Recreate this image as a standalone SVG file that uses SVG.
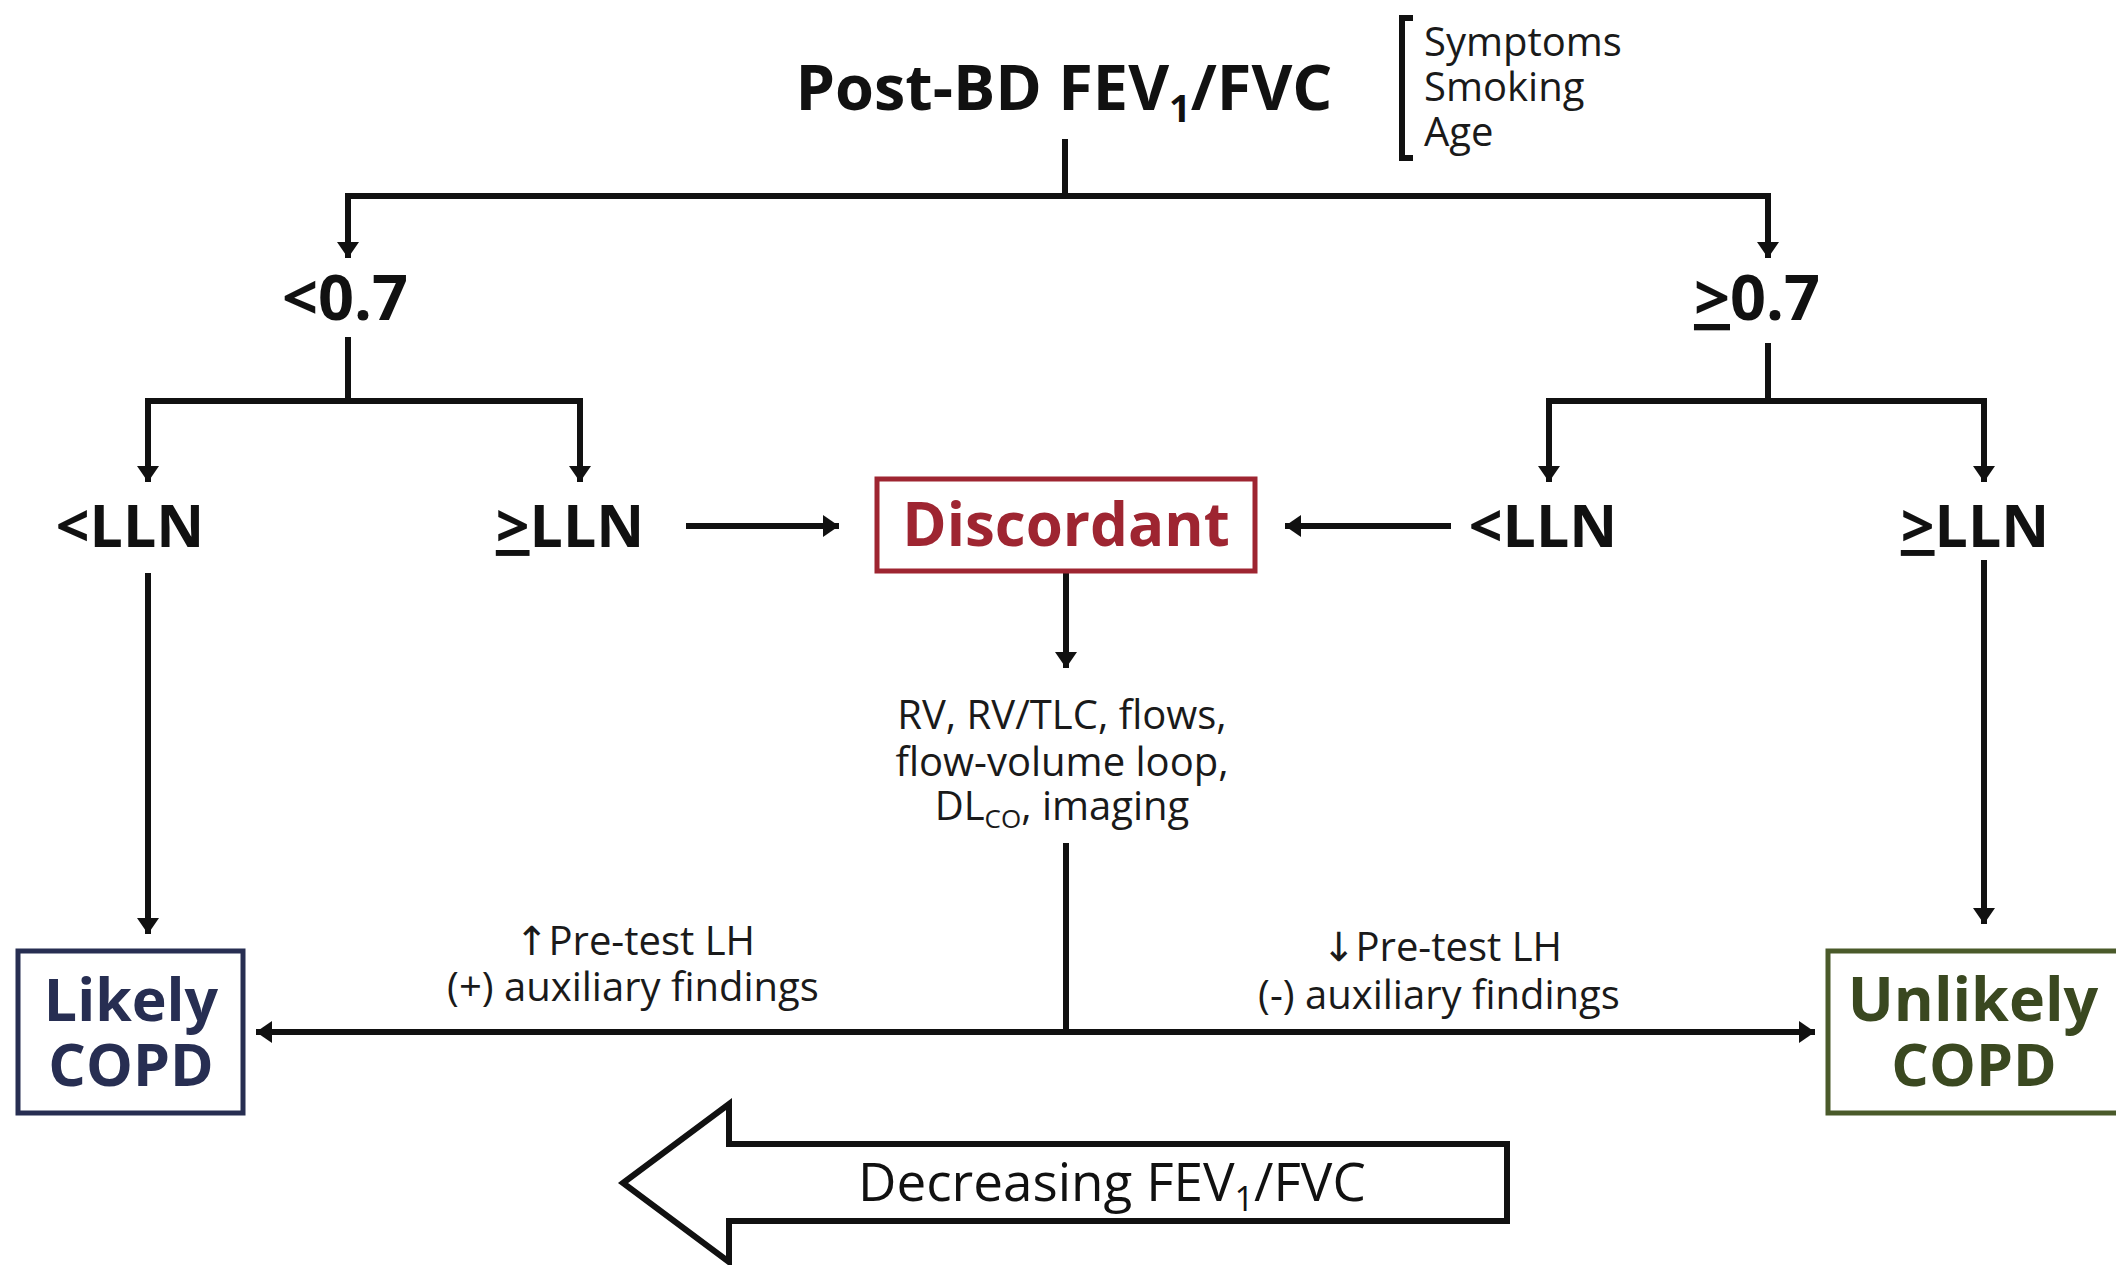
<svg xmlns="http://www.w3.org/2000/svg" width="2116" height="1265" viewBox="0 0 2116 1265">
<defs>
<marker id="ah" markerUnits="userSpaceOnUse" markerWidth="18" markerHeight="24" refX="16" refY="11" orient="auto">
<path d="M0,0 L16,11 L0,22 z" fill="#111"/>
</marker>
<style>
.t{font-family:"Open Sans","DejaVu Sans",sans-serif;fill:#111}
.b{font-weight:bold}
.big{font-size:59px}
.sm{font-size:40px;fill:#1a1a1a}
.ln{fill:none;stroke:#111;stroke-width:6}
.arr{fill:none;stroke:#111;stroke-width:6;marker-end:url(#ah)}
</style>
</defs>
<rect width="2116" height="1265" fill="#fff"/>

<g id="connectors">
<path class="ln" d="M1065,139 V196"/>
<path class="arr" d="M1065,196 H348 V258"/>
<path class="arr" d="M1065,196 H1768 V258"/>
<path class="ln" d="M348,337 V401"/>
<path class="arr" d="M348,401 H148 V482"/>
<path class="arr" d="M348,401 H580 V482"/>
<path class="ln" d="M1768,343 V401"/>
<path class="arr" d="M1768,401 H1549 V482"/>
<path class="arr" d="M1768,401 H1984 V482"/>
<path class="arr" d="M686,526 H839"/>
<path class="arr" d="M1451,526 H1285"/>
<path class="arr" d="M1066,571 V668"/>
<path class="ln" d="M1066,843 V1032"/>
<path class="arr" d="M1066,1032 H256"/>
<path class="arr" d="M1066,1032 H1815"/>
<path class="arr" d="M148,573 V934"/>
<path class="arr" d="M1984,560 V924"/>
</g>

<g id="title">
<text class="t b" x="1064" y="110" font-size="63" text-anchor="middle">Post-BD FEV<tspan font-size="38" dy="12">1</tspan><tspan dy="-12">/FVC</tspan></text>
</g>

<g id="factors">
<path class="ln" d="M1413,18 H1402 V158 H1413"/>
<text class="t sm" x="1424" y="56">Symptoms</text>
<text class="t sm" x="1424" y="101">Smoking</text>
<text class="t sm" x="1424" y="146">Age</text>
</g>

<g id="lt07"><text class="t b" font-size="63" x="345" y="320" text-anchor="middle">&lt;0.7</text></g>
<g id="ge07"><text class="t b" font-size="63" x="1757" y="320" text-anchor="middle"><tspan text-decoration="underline">&gt;</tspan>0.7</text></g>

<g id="lt-lln-left"><text class="t b big" x="130" y="547" text-anchor="middle">&lt;LLN</text></g>
<g id="ge-lln-left"><text class="t b big" x="570" y="547" text-anchor="middle"><tspan text-decoration="underline">&gt;</tspan>LLN</text></g>
<g id="lt-lln-right"><text class="t b big" x="1543" y="547" text-anchor="middle">&lt;LLN</text></g>
<g id="ge-lln-right"><text class="t b big" x="1975" y="547" text-anchor="middle"><tspan text-decoration="underline">&gt;</tspan>LLN</text></g>

<g id="discordant">
<rect x="877" y="479" width="378" height="92" fill="#fff" stroke="#9E2531" stroke-width="5"/>
<text class="t b" font-size="60" x="1066" y="546" text-anchor="middle" style="fill:#9E2531">Discordant</text>
</g>

<g id="tests">
<text class="t sm" x="1062" y="729" text-anchor="middle">RV, RV/TLC, flows,</text>
<text class="t sm" x="1062" y="776" text-anchor="middle">flow-volume loop,</text>
<text class="t sm" x="1062" y="820" text-anchor="middle">DL<tspan font-size="26" dy="8">CO</tspan><tspan dy="-8">, imaging</tspan></text>
</g>

<g id="likely">
<rect x="18" y="951" width="225" height="162" fill="#fff" stroke="#272E52" stroke-width="5"/>
<text class="t b big" x="131" y="1021" text-anchor="middle" style="fill:#272E52">Likely</text>
<text class="t b big" x="131" y="1086" text-anchor="middle" style="fill:#272E52">COPD</text>
</g>

<g id="unlikely">
<rect x="1828" y="951" width="300" height="162" fill="#fff" stroke="#4A5A2A" stroke-width="5"/>
<text class="t b" font-size="61" x="1973" y="1021" text-anchor="middle" style="fill:#3A4820">Unlikely</text>
<text class="t b big" x="1974" y="1086" text-anchor="middle" style="fill:#3A4820">COPD</text>
</g>

<g id="label-left">
<text class="t sm" x="635" y="955" text-anchor="middle">↑Pre-test LH</text>
<text class="t sm" x="633" y="1001" text-anchor="middle" font-size="41">(+) auxiliary findings</text>
</g>
<g id="label-right">
<text class="t sm" x="1442" y="961" text-anchor="middle">↓Pre-test LH</text>
<text class="t sm" x="1439" y="1009" text-anchor="middle" font-size="41">(-) auxiliary findings</text>
</g>

<g id="decreasing">
<polygon points="623,1183 729,1104 729,1144 1507,1144 1507,1221 729,1221 729,1262" fill="#fff" stroke="#111" stroke-width="6" stroke-linejoin="miter"/>
<text class="t" x="858" y="1201" font-size="53">Decreasing FEV<tspan font-size="34" dy="10">1</tspan><tspan dy="-10">/FVC</tspan></text>
</g>
</svg>
